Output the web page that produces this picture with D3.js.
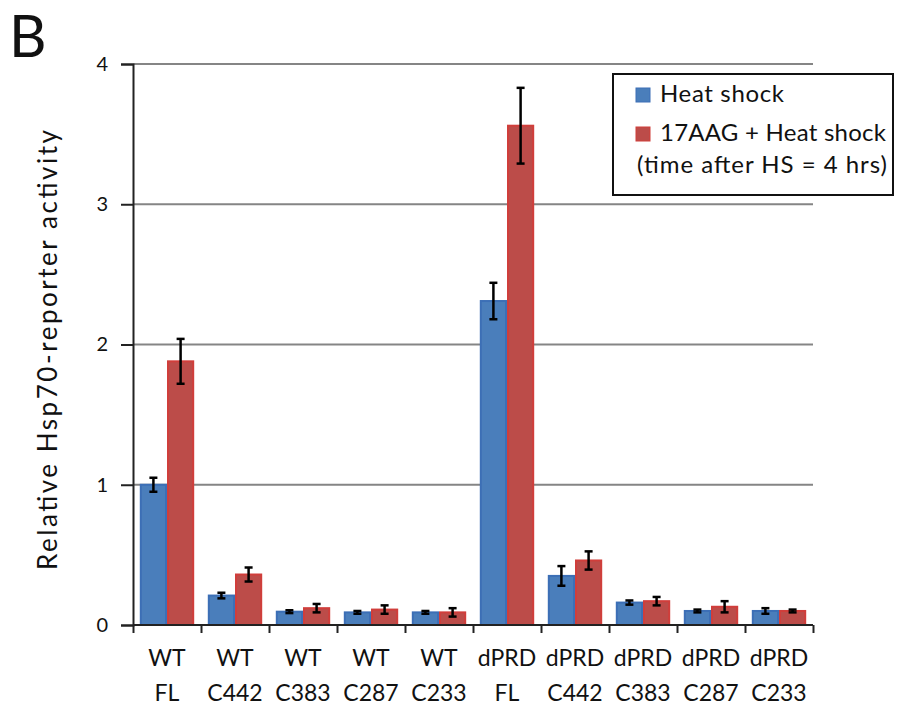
<!DOCTYPE html>
<html>
<head>
<meta charset="utf-8">
<script src="https://cdn.jsdelivr.net/npm/d3@7"></script>
<style>
  body { margin: 0; background: #fff; }
  text { font-family: Lato, "Open Sans", sans-serif; fill: #111; }
</style>
</head>
<body>
<div id="plot"></div>
<script>
// data
const groups = ["WT|FL", "WT|C442", "WT|C383", "WT|C287", "WT|C233",
                "dPRD|FL", "dPRD|C442", "dPRD|C383", "dPRD|C287", "dPRD|C233"];
const seriesNames = ["Heat shock", "17AAG + Heat shock"];
const legendNote = "(time after HS = 4 hrs)";
const heatShock = [1.00, 0.21, 0.095, 0.09, 0.09, 2.31, 0.35, 0.16, 0.10, 0.10];
const heatShockErr = [0.05, 0.02, 0.01, 0.01, 0.01, 0.13, 0.07, 0.015, 0.01, 0.02];
const aag = [1.88, 0.36, 0.12, 0.11, 0.09, 3.56, 0.46, 0.17, 0.13, 0.10];
const aagErr = [0.16, 0.05, 0.03, 0.03, 0.03, 0.27, 0.065, 0.03, 0.04, 0.01];
const yTicks = [0, 1, 2, 3, 4];

const W = 903, H = 709;
const mLeft = 133, mRight = 813, mTop = 64, mBottom = 625;

const svg = d3.select("#plot").append("svg")
    .attr("width", W).attr("height", H);

const y = d3.scaleLinear().domain([0, 4]).range([mBottom, mTop]);
const x = d3.scaleBand().domain(groups).range([mLeft, mRight])
    .paddingInner(0.2).paddingOuter(0.1);
const xs = d3.scaleBand().domain([0, 1]).range([0, x.bandwidth()]);
const xb = d3.scaleLinear().domain([0, groups.length]).range([mLeft, mRight]);

// gridlines
svg.append("g").selectAll("line")
    .data(yTicks.slice(1))
    .join("line")
    .attr("x1", mLeft).attr("x2", mRight)
    .attr("y1", d => y(d)).attr("y2", d => y(d))
    .attr("stroke", "#858585").attr("stroke-width", 2);

// bars
const colors = [{fill: "#4a7ebb", stroke: "#3c6fb6"}, {fill: "#bc4c49", stroke: "#d03e3b"}];
const vals = [heatShock, aag];
const errs = [heatShockErr, aagErr];

vals.forEach(function(v, s) {
    svg.append("g").selectAll("rect")
        .data(v)
        .join("rect")
        .attr("x", (d, i) => x(groups[i]) + xs(s) + 1)
        .attr("y", d => y(d))
        .attr("width", xs.bandwidth() - 2)
        .attr("height", d => y(0) - y(d))
        .attr("fill", colors[s].fill)
        .attr("stroke", colors[s].stroke)
        .attr("stroke-width", 2);
});

// error bars
vals.forEach(function(v, s) {
    const g = svg.append("g").attr("stroke", "#000").attr("stroke-width", 2.5);
    v.forEach(function(d, i) {
        const cx = x(groups[i]) + xs(s) + xs.bandwidth() / 2;
        const e = errs[s][i];
        g.append("line").attr("x1", cx).attr("x2", cx)
            .attr("y1", y(d + e)).attr("y2", y(d - e));
        [d + e, d - e].forEach(function(t) {
            g.append("line").attr("x1", cx - 4).attr("x2", cx + 4)
                .attr("y1", y(t)).attr("y2", y(t));
        });
    });
});

// y axis
const yAxis = svg.append("g")
    .attr("transform", "translate(" + mLeft + ",0)")
    .call(d3.axisLeft(y).tickValues(yTicks).tickFormat(d3.format("d"))
        .tickSize(12).tickPadding(13));
yAxis.select(".domain").attr("stroke", "#222").attr("stroke-width", 2);
yAxis.selectAll(".tick line").attr("stroke", "#222").attr("stroke-width", 2);
yAxis.selectAll(".tick text").style("font-size", "20px").attr("fill", "#111");

// x axis (ticks between groups)
const xAxis = svg.append("g")
    .attr("transform", "translate(0," + mBottom + ")")
    .call(d3.axisBottom(xb).ticks(groups.length).tickSize(8).tickFormat(""));
xAxis.select(".domain").attr("stroke", "#222").attr("stroke-width", 2)
    .attr("d", "M" + mLeft + ",0H" + mRight);
xAxis.selectAll(".tick line").attr("stroke", "#222").attr("stroke-width", 2);

// x labels, two lines
const lab = svg.append("g").selectAll("text")
    .data(groups)
    .join("text")
    .attr("text-anchor", "middle")
    .style("font-size", "23px");
lab.append("tspan")
    .attr("x", d => x(d) + x.bandwidth() / 2).attr("y", 666)
    .text(d => d.split("|")[0]);
lab.append("tspan")
    .attr("x", d => x(d) + x.bandwidth() / 2).attr("y", 701)
    .text(d => d.split("|")[1]);

// y title
svg.append("text")
    .attr("transform", "translate(57,350) rotate(-90)")
    .attr("text-anchor", "middle")
    .attr("textLength", 440).attr("lengthAdjust", "spacing")
    .style("font-size", "26px")
    .text("Relative Hsp70-reporter activity");

// panel letter
svg.append("text")
    .attr("x", 9).attr("y", 57)
    .style("font-size", "58px")
    .text("B");

// legend
const lg = svg.append("g");
lg.append("rect")
    .attr("x", 613).attr("y", 74).attr("width", 280).attr("height", 121)
    .attr("fill", "#fff").attr("stroke", "#111").attr("stroke-width", 2);
const legendW = [124, 226];
seriesNames.forEach(function(n, i) {
    lg.append("rect")
        .attr("x", 636).attr("y", 88 + i * 39).attr("width", 14).attr("height", 14)
        .attr("fill", colors[i].fill).attr("stroke", colors[i].stroke);
    lg.append("text")
        .attr("x", 660).attr("y", 102 + i * 39)
        .attr("textLength", legendW[i]).attr("lengthAdjust", "spacing")
        .style("font-size", "24px")
        .text(n);
});
lg.append("text")
    .attr("x", 637).attr("y", 173)
    .attr("textLength", 250).attr("lengthAdjust", "spacing")
    .style("font-size", "24px")
    .text(legendNote);
</script>
</body>
</html>
